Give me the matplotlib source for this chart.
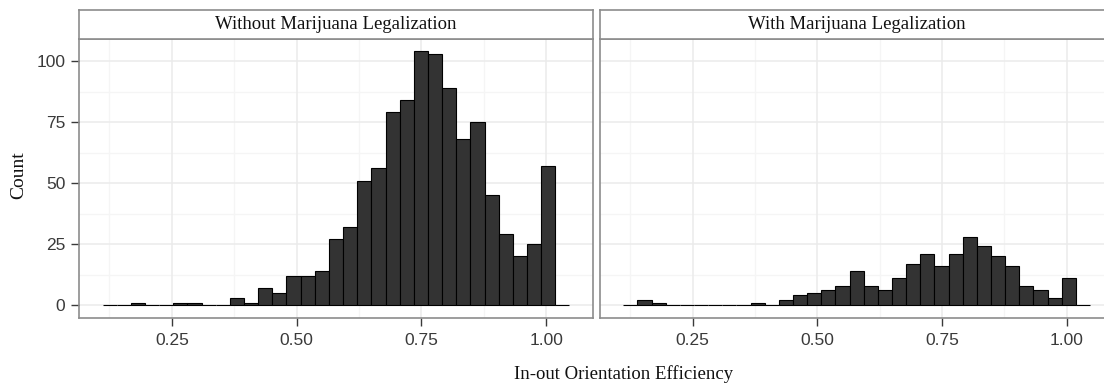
import numpy as np
import matplotlib
matplotlib.use("Agg")
import matplotlib.pyplot as plt

# Histogram bins shared by both facets
bin_start = 0.1113
bin_width = 0.02834

counts_without = [0, 0, 1, 0, 0, 1, 1, 0, 0, 3, 1, 7, 5, 12, 12, 14, 27, 32,
                  51, 56, 79, 84, 104, 103, 89, 68, 75, 45, 29, 20, 25, 57, 0]
counts_with = [0, 2, 1, 0, 0, 0, 0, 0, 0, 1, 0, 2, 4, 5, 6, 8, 14, 8,
               6, 11, 17, 21, 16, 21, 28, 24, 20, 16, 8, 6, 3, 11, 0]

panel_titles = ["Without Marijuana Legalization", "With Marijuana Legalization"]
x_ticks = [0.25, 0.50, 0.75, 1.00]
x_tick_labels = ["0.25", "0.50", "0.75", "1.00"]
y_ticks = [0, 25, 50, 75, 100]
x_minor = [0.125, 0.375, 0.625, 0.875]
y_minor = [12.5, 37.5, 62.5, 87.5]
x_label = "In-out Orientation Efficiency"
y_label = "Count"

W, H = 1104, 386
fig = plt.figure(figsize=(W / 100, H / 100), dpi=100)

serif = ["Liberation Serif", "DejaVu Serif"]
sans = ["Liberation Sans", "DejaVu Sans"]
border = "#8c8c8c"
grid_major = "#ebebeb"
grid_minor = "#f5f5f5"
tick_col = "#3a3a3a"

panel_w = 513.4
panel_top, panel_bot = 38.7, 317.7
strip_top = 10.0
lefts = [79.3, 600.0]

edges = bin_start + bin_width * np.arange(len(counts_without))

for left, title, counts in zip(lefts, panel_titles, [counts_without, counts_with]):
    ax = fig.add_axes([left / W, 1 - panel_bot / H, panel_w / W,
                       (panel_bot - panel_top) / H])
    for v in x_minor:
        ax.axvline(v, color=grid_minor, lw=0.9, zorder=0)
    for v in y_minor:
        ax.axhline(v, color=grid_minor, lw=0.9, zorder=0)
    for v in x_ticks:
        ax.axvline(v, color=grid_major, lw=1.1, zorder=0)
    for v in y_ticks:
        ax.axhline(v, color=grid_major, lw=1.1, zorder=0)

    ax.bar(edges, counts, width=bin_width, align="edge", color="#333333",
           edgecolor="black", linewidth=0.8, zorder=2)

    lo, hi = edges[0], edges[-1] + bin_width
    pad = 0.05 * (hi - lo)
    ax.set_xlim(lo - pad, hi + pad)
    ymax = max(max(counts_without), max(counts_with))
    ax.set_ylim(-0.05 * ymax, 1.05 * ymax)

    ax.set_xticks(x_ticks)
    ax.set_xticklabels(x_tick_labels, fontfamily=sans, fontsize=12.5, color=tick_col)
    ax.set_yticks(y_ticks)
    if left == lefts[0]:
        ax.set_yticklabels([str(t) for t in y_ticks], fontfamily=sans,
                           fontsize=12.5, color=tick_col)
        ax.tick_params(axis="y", length=6, width=1, color=tick_col, pad=4)
    else:
        ax.tick_params(axis="y", length=0, labelleft=False)
    ax.tick_params(axis="x", length=6, width=1, color=tick_col, pad=5)
    for s in ax.spines.values():
        s.set_color(border)
        s.set_linewidth(1.2)

    sax = fig.add_axes([left / W, 1 - panel_top / H, panel_w / W,
                        (panel_top - strip_top) / H])
    sax.set_xticks([])
    sax.set_yticks([])
    for s in sax.spines.values():
        s.set_color(border)
        s.set_linewidth(1.2)
    sax.text(0.5, 0.48, title, ha="center", va="center", fontfamily=serif,
             fontsize=13.5, color="#111111", transform=sax.transAxes)

fig.text(624 / W, 1 - 374 / H, x_label, ha="center", va="center",
         fontfamily=serif, fontsize=13.5, color="#111111")
fig.text(19 / W, 1 - 175 / H, y_label, ha="center", va="center", rotation=90,
         fontfamily=serif, fontsize=14, color="#111111")

fig.savefig("out.png", dpi=100)
